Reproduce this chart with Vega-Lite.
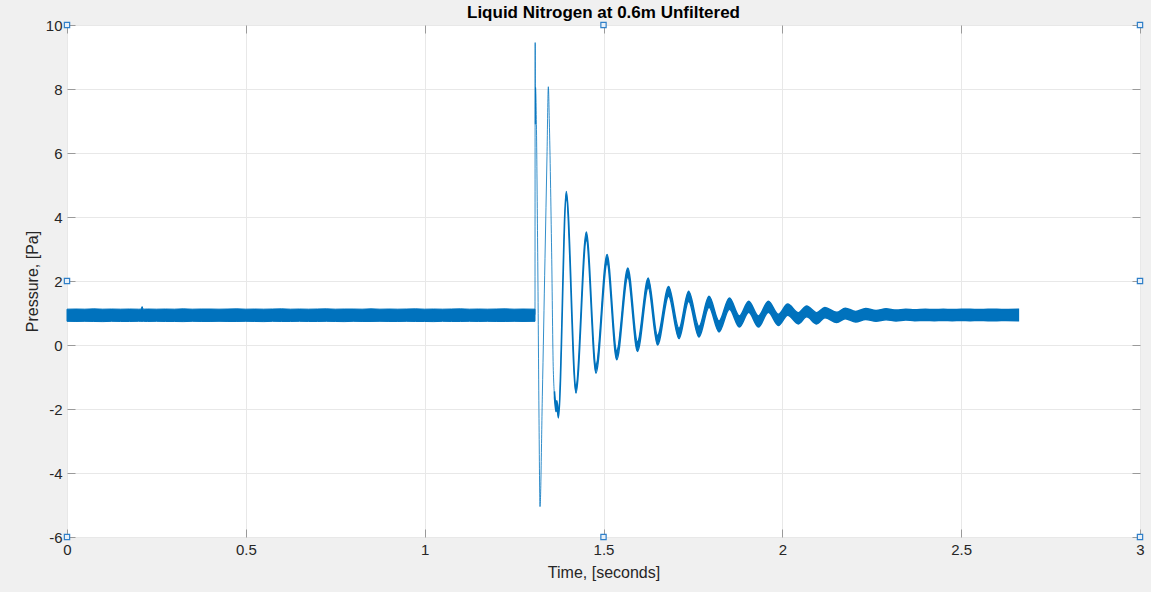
{
  "$schema": "https://vega.github.io/schema/vega-lite/v6.json",
  "width": 1073,
  "height": 512,
  "autosize": {"type": "none"},
  "padding": {"left": 67, "top": 25, "right": 11, "bottom": 55},
  "background": "#f0f0f0",
  "config": {
    "view": {"fill": "white", "stroke": "#9a9a9a", "strokeWidth": 1},
    "font": "Liberation Sans"
  },
  "title": {"text": "Liquid Nitrogen at 0.6m Unfiltered", "fontSize": 17, "fontWeight": "bold", "color": "#000000", "offset": -4, "anchor": "middle", "font": "Liberation Sans"},
  "datasets": {
    "base": [
      {"t": 0, "lo": 0.74, "hi": 1.12}, {"t": 0.025, "lo": 0.735, "hi": 1.125}, {"t": 0.05, "lo": 0.74, "hi": 1.12},
      {"t": 0.075, "lo": 0.735, "hi": 1.13}, {"t": 0.1, "lo": 0.73, "hi": 1.12}, {"t": 0.125, "lo": 0.74, "hi": 1.125},
      {"t": 0.15, "lo": 0.735, "hi": 1.12}, {"t": 0.175, "lo": 0.735, "hi": 1.125}, {"t": 0.2, "lo": 0.74, "hi": 1.12},
      {"t": 0.207, "lo": 0.74, "hi": 1.12}, {"t": 0.21, "lo": 0.735, "hi": 1.2}, {"t": 0.213, "lo": 0.74, "hi": 1.12},
      {"t": 0.225, "lo": 0.735, "hi": 1.125}, {"t": 0.25, "lo": 0.74, "hi": 1.12},
      {"t": 0.275, "lo": 0.735, "hi": 1.125}, {"t": 0.3, "lo": 0.735, "hi": 1.12}, {"t": 0.325, "lo": 0.73, "hi": 1.13},
      {"t": 0.35, "lo": 0.74, "hi": 1.12}, {"t": 0.375, "lo": 0.735, "hi": 1.125}, {"t": 0.4, "lo": 0.735, "hi": 1.125},
      {"t": 0.425, "lo": 0.74, "hi": 1.12}, {"t": 0.45, "lo": 0.735, "hi": 1.125}, {"t": 0.475, "lo": 0.735, "hi": 1.13},
      {"t": 0.5, "lo": 0.74, "hi": 1.12}, {"t": 0.525, "lo": 0.735, "hi": 1.125}, {"t": 0.55, "lo": 0.73, "hi": 1.12},
      {"t": 0.575, "lo": 0.74, "hi": 1.125}, {"t": 0.6, "lo": 0.735, "hi": 1.13}, {"t": 0.625, "lo": 0.735, "hi": 1.12},
      {"t": 0.65, "lo": 0.74, "hi": 1.125}, {"t": 0.675, "lo": 0.735, "hi": 1.12}, {"t": 0.7, "lo": 0.735, "hi": 1.125},
      {"t": 0.725, "lo": 0.74, "hi": 1.13}, {"t": 0.75, "lo": 0.735, "hi": 1.12}, {"t": 0.775, "lo": 0.73, "hi": 1.125},
      {"t": 0.8, "lo": 0.74, "hi": 1.125}, {"t": 0.825, "lo": 0.735, "hi": 1.12}, {"t": 0.85, "lo": 0.735, "hi": 1.13},
      {"t": 0.875, "lo": 0.74, "hi": 1.12}, {"t": 0.9, "lo": 0.735, "hi": 1.125}, {"t": 0.925, "lo": 0.735, "hi": 1.12},
      {"t": 0.95, "lo": 0.74, "hi": 1.125}, {"t": 0.975, "lo": 0.735, "hi": 1.13}, {"t": 1.0, "lo": 0.735, "hi": 1.12},
      {"t": 1.025, "lo": 0.73, "hi": 1.125}, {"t": 1.05, "lo": 0.74, "hi": 1.12}, {"t": 1.075, "lo": 0.735, "hi": 1.125},
      {"t": 1.1, "lo": 0.735, "hi": 1.13}, {"t": 1.125, "lo": 0.74, "hi": 1.12}, {"t": 1.15, "lo": 0.735, "hi": 1.125},
      {"t": 1.175, "lo": 0.74, "hi": 1.12}, {"t": 1.2, "lo": 0.735, "hi": 1.125}, {"t": 1.225, "lo": 0.735, "hi": 1.13},
      {"t": 1.25, "lo": 0.74, "hi": 1.12}, {"t": 1.275, "lo": 0.735, "hi": 1.125}, {"t": 1.3085, "lo": 0.74, "hi": 1.12}
    ],
    "spike": [
      {"t": 1.3085, "p": 0.95}, {"t": 1.309, "p": 9.45}, {"t": 1.3095, "p": 6.9}, {"t": 1.31, "p": 8.05},
      {"t": 1.316, "p": 2.9}, {"t": 1.3197, "p": -2.3}, {"t": 1.3225, "p": -5.05}, {"t": 1.329, "p": -1.6},
      {"t": 1.3364, "p": 2.7}, {"t": 1.342, "p": 5.9}, {"t": 1.3458, "p": 8.07}, {"t": 1.3485, "p": 7.0},
      {"t": 1.355, "p": 2.9}, {"t": 1.3597, "p": -0.8}, {"t": 1.365, "p": -1.8}
    ],
    "wave": [
      {"t": 1.363, "lo": -1.65, "hi": -1.45}, {"t": 1.367, "lo": -2.08, "hi": -1.84}, {"t": 1.3695, "lo": -1.95, "hi": -1.74},
      {"t": 1.374, "lo": -2.28, "hi": -2.05}, {"t": 1.396, "lo": 4.55, "hi": 4.8}, {"t": 1.423, "lo": -1.5, "hi": -1.25},
      {"t": 1.452, "lo": 3.27, "hi": 3.53}, {"t": 1.479, "lo": -0.88, "hi": -0.62}, {"t": 1.51, "lo": 2.55, "hi": 2.83},
      {"t": 1.537, "lo": -0.46, "hi": -0.18}, {"t": 1.568, "lo": 2.12, "hi": 2.41}, {"t": 1.595, "lo": -0.2, "hi": 0.1},
      {"t": 1.625, "lo": 1.79, "hi": 2.09}, {"t": 1.651, "lo": 0.0, "hi": 0.3}, {"t": 1.682, "lo": 1.52, "hi": 1.83},
      {"t": 1.711, "lo": 0.2, "hi": 0.52}, {"t": 1.738, "lo": 1.36, "hi": 1.68}, {"t": 1.767, "lo": 0.25, "hi": 0.58},
      {"t": 1.795, "lo": 1.18, "hi": 1.52}, {"t": 1.823, "lo": 0.41, "hi": 0.75}, {"t": 1.852, "lo": 1.12, "hi": 1.47},
      {"t": 1.88, "lo": 0.56, "hi": 0.91}, {"t": 1.906, "lo": 1.02, "hi": 1.37}, {"t": 1.933, "lo": 0.56, "hi": 0.91},
      {"t": 1.961, "lo": 1.02, "hi": 1.37}, {"t": 1.989, "lo": 0.61, "hi": 0.96}, {"t": 2.015, "lo": 0.93, "hi": 1.28},
      {"t": 2.045, "lo": 0.66, "hi": 1.01}, {"t": 2.068, "lo": 0.88, "hi": 1.22}, {"t": 2.096, "lo": 0.66, "hi": 1.01},
      {"t": 2.119, "lo": 0.85, "hi": 1.17}, {"t": 2.152, "lo": 0.7, "hi": 1.02}, {"t": 2.176, "lo": 0.82, "hi": 1.15},
      {"t": 2.205, "lo": 0.72, "hi": 1.05}, {"t": 2.233, "lo": 0.8, "hi": 1.14}, {"t": 2.262, "lo": 0.74, "hi": 1.08},
      {"t": 2.29, "lo": 0.79, "hi": 1.13}, {"t": 2.318, "lo": 0.75, "hi": 1.09}, {"t": 2.345, "lo": 0.78, "hi": 1.12},
      {"t": 2.37, "lo": 0.76, "hi": 1.1}, {"t": 2.4, "lo": 0.765, "hi": 1.115}, {"t": 2.425, "lo": 0.76, "hi": 1.11},
      {"t": 2.45, "lo": 0.765, "hi": 1.115}, {"t": 2.475, "lo": 0.76, "hi": 1.11}, {"t": 2.5, "lo": 0.765, "hi": 1.115},
      {"t": 2.525, "lo": 0.76, "hi": 1.115}, {"t": 2.55, "lo": 0.765, "hi": 1.11}, {"t": 2.575, "lo": 0.76, "hi": 1.115},
      {"t": 2.6, "lo": 0.76, "hi": 1.115}, {"t": 2.625, "lo": 0.765, "hi": 1.11}, {"t": 2.66, "lo": 0.76, "hi": 1.115}
    ],
    "handles": [
      {"t": 0, "p": 10}, {"t": 1.5, "p": 10}, {"t": 3, "p": 10}, {"t": 0, "p": 2},
      {"t": 3, "p": 2}, {"t": 0, "p": -6}, {"t": 1.5, "p": -6}, {"t": 3, "p": -6}
    ]
  },
  "resolve": {"axis": {"x": "independent", "y": "independent"}},
  "layer": [
    {
      "data": {"name": "base"},
      "mark": {"type": "area", "color": "#0072BD", "stroke": "#0072BD", "strokeWidth": 1},
      "encoding": {
        "x": {"field": "t", "type": "quantitative", "scale": {"domain": [0, 3], "nice": false, "zero": false},
          "axis": {"title": "Time, [seconds]", "values": [0, 0.5, 1, 1.5, 2, 2.5, 3], "labelExpr": "'' + datum.value",
            "domain": false, "grid": true, "gridColor": "#e8e8e8", "tickColor": "#9a9a9a", "tickSize": -8,
            "labelFontSize": 15, "labelColor": "#262626", "labelPadding": 13, "labelFlush": false,
            "titleFontSize": 16, "titleFontWeight": "normal", "titleColor": "#262626", "titlePadding": 7}},
        "y": {"field": "lo", "type": "quantitative", "scale": {"domain": [-6, 10], "nice": false, "zero": false},
          "axis": {"title": "Pressure, [Pa]", "values": [-6, -4, -2, 0, 2, 4, 6, 8, 10], "labelExpr": "'' + datum.value",
            "domain": false, "grid": true, "gridColor": "#e8e8e8", "tickColor": "#9a9a9a", "tickSize": -8,
            "labelFontSize": 15, "labelColor": "#262626", "labelPadding": 13, "labelFlush": false,
            "titleFontSize": 16, "titleFontWeight": "normal", "titleColor": "#262626", "titlePadding": 5}},
        "y2": {"field": "hi"}
      }
    },
    {
      "data": {"name": "spike"},
      "mark": {"type": "line", "color": "#0072BD", "strokeWidth": 1, "opacity": 0.8, "interpolate": "monotone"},
      "encoding": {
        "x": {"field": "t", "type": "quantitative", "axis": null},
        "y": {"field": "p", "type": "quantitative", "axis": null}
      }
    },
    {
      "data": {"name": "wave"},
      "mark": {"type": "area", "color": "#0072BD", "stroke": "#0072BD", "strokeWidth": 1.5, "interpolate": "monotone"},
      "encoding": {
        "x": {"field": "t", "type": "quantitative", "axis": null},
        "y": {"field": "lo", "type": "quantitative", "axis": null},
        "y2": {"field": "hi"}
      }
    },
    {
      "data": {"name": "handles"},
      "mark": {"type": "point", "shape": "square", "size": 28, "filled": false, "fill": "#e8f0f8", "stroke": "#2f7fc8", "strokeWidth": 1.2, "opacity": 1, "clip": false},
      "encoding": {
        "x": {"field": "t", "type": "quantitative",
          "axis": {"orient": "top", "title": null, "labels": false, "grid": false, "domain": false, "values": [0, 0.5, 1, 1.5, 2, 2.5, 3], "tickColor": "#9a9a9a", "tickSize": -8}},
        "y": {"field": "p", "type": "quantitative",
          "axis": {"orient": "right", "title": null, "labels": false, "grid": false, "domain": false, "values": [-6, -4, -2, 0, 2, 4, 6, 8, 10], "tickColor": "#9a9a9a", "tickSize": -8}}
      }
    }
  ]
}
